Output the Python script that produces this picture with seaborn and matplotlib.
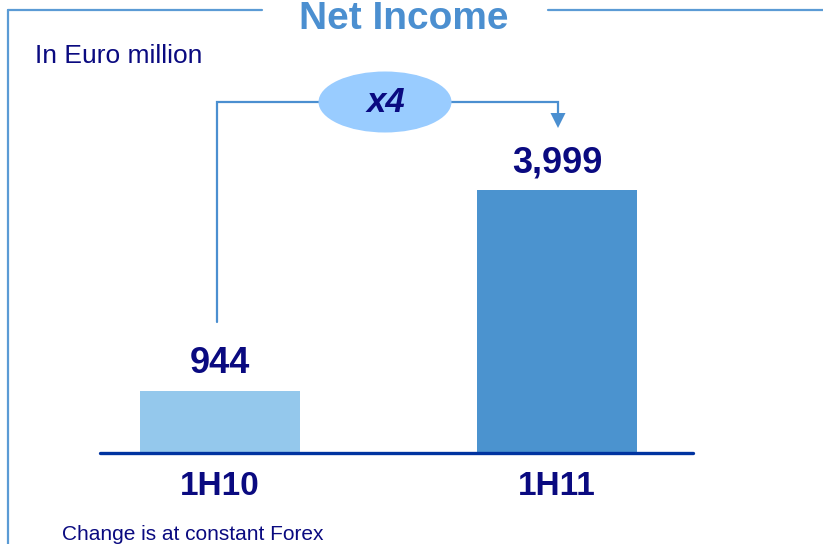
import matplotlib
matplotlib.use("Agg")
import matplotlib.pyplot as plt
from matplotlib.patches import Ellipse, Polygon
from matplotlib.lines import Line2D
import seaborn as sns

# Net income, EUR million
periods = ["1H10", "1H11"]
net_income = [944, 3999]
value_labels = ["944", "3,999"]
bar_colors = ["#94c8ec", "#4b93cf"]
growth_label = "x4"

sns.set_theme(style="white")
plt.rcParams["font.family"] = ["Liberation Sans", "DejaVu Sans"]

W, H = 823, 544
fig = plt.figure(figsize=(W / 100, H / 100), dpi=100)

NAVY = "#0a0a80"
FRAME = "#5b9bd5"
ACCENT = "#4b8fd0"

# bar area: baseline at y=453 px, spanning x=100..693 px
ax_left, ax_right, ax_base, ax_top = 100, 693, 453, 60
ax = fig.add_axes([ax_left / W, 1 - ax_base / H,
                   (ax_right - ax_left) / W, (ax_base - ax_top) / H])

sns.barplot(x=periods, y=net_income, hue=periods, palette=bar_colors,
            width=160 / 337, legend=False, saturation=1, linewidth=0, ax=ax)

unit = 337.0  # px between bar centres
ax.set_xlim(-120 / unit, 1 + 136 / unit)
ax.set_ylim(0, max(net_income) * (ax_base - ax_top) / 263)

ax.axhline(0, color="#0033a0", lw=2.4, zorder=5, clip_on=False)
for s in ax.spines.values():
    s.set_visible(False)
ax.set_yticks([])
ax.set_ylabel("")
ax.tick_params(axis="x", length=0, pad=13)
for lab in ax.get_xticklabels():
    lab.set_fontsize(24)
    lab.set_fontweight("bold")
    lab.set_color(NAVY)

# value labels above the bars
for i, (v, lbl) in enumerate(zip(net_income, value_labels)):
    ax.annotate(lbl, (i, v), xytext=(0, 7), textcoords="offset points",
                ha="center", va="bottom", fontsize=26, fontweight="bold",
                color=NAVY)

# overlay in pixel coordinates for frame, title and annotations
ov = fig.add_axes([0, 0, 1, 1], facecolor="none")
ov.set_xlim(0, W)
ov.set_ylim(H, 0)
ov.axis("off")

# frame
ov.add_line(Line2D([8, 8], [10, H], color=FRAME, lw=1.6))
ov.add_line(Line2D([8, 262], [10, 10], color=FRAME, lw=1.6))
ov.add_line(Line2D([548, W], [10, 10], color=FRAME, lw=1.6))

ov.text(404, 29, "Net Income", ha="center", va="baseline", fontsize=28,
        fontweight="bold", color=ACCENT)
ov.text(35, 63, "In Euro million", ha="left", va="baseline", fontsize=19,
        color=NAVY)
ov.text(62, 540, "Change is at constant Forex", ha="left", va="baseline",
        fontsize=15, color=NAVY)

# growth connector
ov.add_line(Line2D([217, 217, 558, 558], [322, 102, 102, 114],
                   color=ACCENT, lw=1.6, solid_joinstyle="miter"))
ov.add_patch(Polygon([[550.5, 113], [565.5, 113], [558, 128]],
                     closed=True, color=ACCENT, lw=0))
ov.add_patch(Ellipse((385, 102), 133, 61, color="#99ccff", lw=0, zorder=3))
ov.text(386, 103, growth_label, ha="center", va="center", fontsize=25,
        fontweight="bold", fontstyle="italic", color=NAVY, zorder=4)

fig.savefig("out.png", dpi=100)
